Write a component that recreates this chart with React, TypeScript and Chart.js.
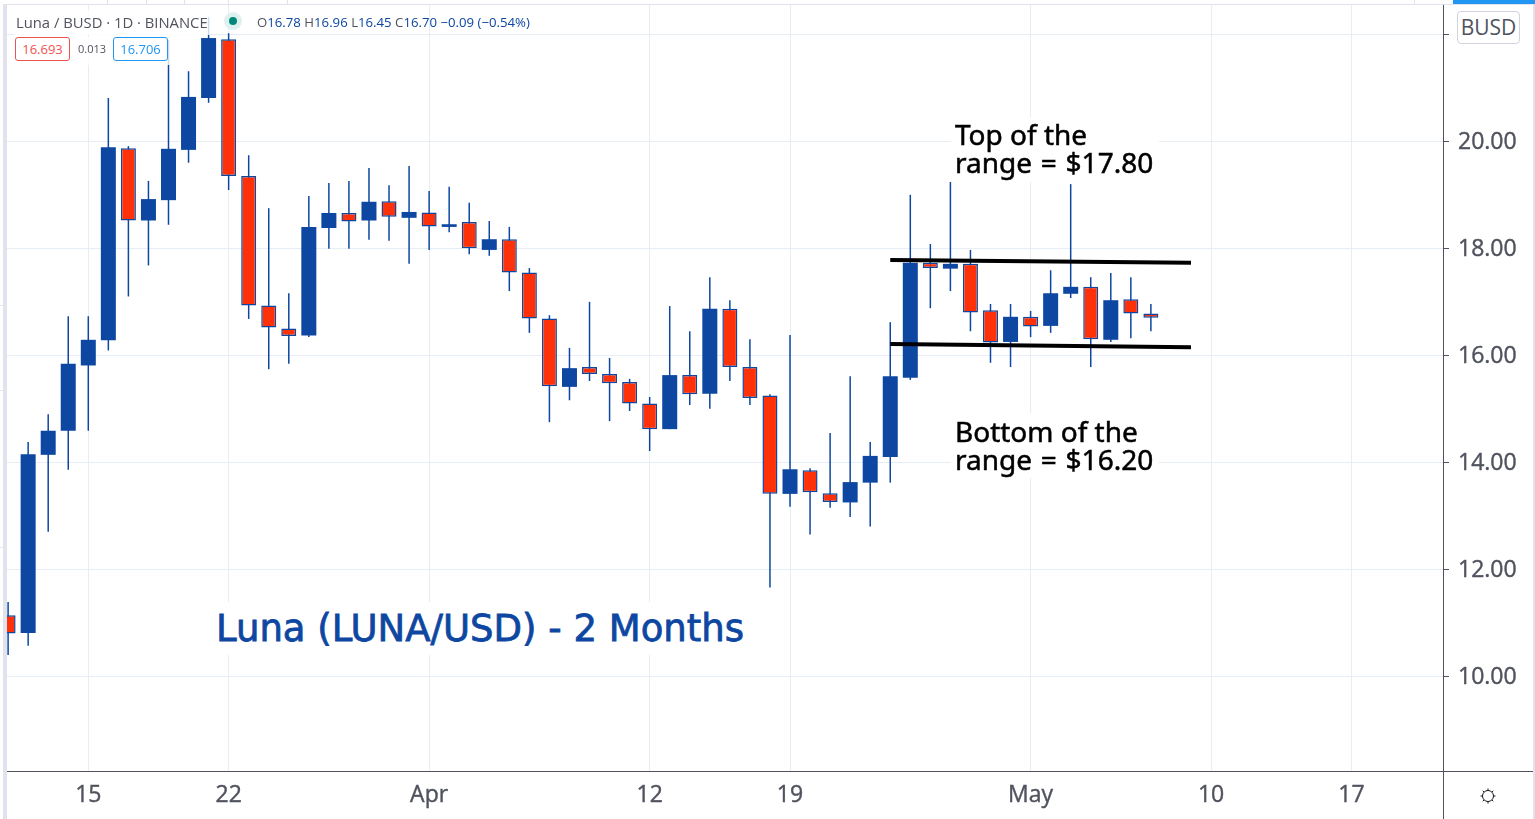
import { useEffect, useRef } from 'react';
import Chart from 'chart.js/auto';

// daily candles, index 0 is Mar 11
const dates = [
    'Mar 11', 'Mar 12', 'Mar 13', 'Mar 14', 'Mar 15', 'Mar 16', 'Mar 17', 'Mar 18', 'Mar 19', 'Mar 20', 'Mar 21',
    'Mar 22', 'Mar 23', 'Mar 24', 'Mar 25', 'Mar 26', 'Mar 27', 'Mar 28', 'Mar 29', 'Mar 30', 'Mar 31',
    'Apr 1', 'Apr 2', 'Apr 3', 'Apr 4', 'Apr 5', 'Apr 6', 'Apr 7', 'Apr 8', 'Apr 9', 'Apr 10', 'Apr 11', 'Apr 12',
    'Apr 13', 'Apr 14', 'Apr 15', 'Apr 16', 'Apr 17', 'Apr 18', 'Apr 19', 'Apr 20', 'Apr 21', 'Apr 22', 'Apr 23',
    'Apr 24', 'Apr 25', 'Apr 26', 'Apr 27', 'Apr 28', 'Apr 29', 'Apr 30', 'May 1', 'May 2', 'May 3', 'May 4',
    'May 5', 'May 6', 'May 7',
];
const opens = [
    11.14, 10.81, 14.14, 14.59, 15.81, 16.28, 19.87, 18.52, 18.9, 19.84, 20.81,
    21.91, 19.35, 16.93, 16.5, 16.37, 18.38, 18.66, 18.52, 18.88, 18.57,
    18.67, 18.4, 18.49, 17.97, 18.17, 17.55, 16.69, 15.41, 15.78, 15.65, 15.5, 15.1,
    14.62, 15.63, 15.28, 16.87, 15.78, 15.25, 13.41, 13.85, 13.42, 13.25, 13.62,
    14.1, 15.58, 17.73, 17.62, 17.71, 16.84, 16.25, 16.72, 16.55, 17.15, 17.28,
    16.29, 17.05, 16.78,
];
const highs = [
    11.39, 14.38, 14.9, 16.73, 16.73, 20.81, 19.91, 19.26, 21.89, 21.31, 22.32,
    22.02, 19.74, 18.75, 17.16, 18.98, 19.22, 19.26, 19.5, 19.18, 19.54,
    19.07, 19.15, 18.85, 18.51, 18.4, 17.63, 16.75, 16.14, 17.0, 15.95, 15.56, 15.22,
    16.92, 16.45, 17.46, 17.03, 16.3, 15.27, 16.38, 13.89, 14.55, 15.61, 14.38,
    16.62, 19.0, 18.08, 19.24, 17.97, 16.96, 16.96, 16.83, 17.59, 19.2, 17.46,
    17.54, 17.46, 16.96,
];
const lows = [
    10.4, 10.57, 12.7, 13.86, 14.59, 16.09, 17.1, 17.68, 18.44, 19.6, 20.72,
    19.09, 16.68, 15.74, 15.84, 16.34, 17.99, 17.99, 18.16, 18.14, 17.71,
    17.97, 18.3, 17.89, 17.86, 17.2, 16.42, 14.75, 15.16, 15.52, 14.77, 14.96, 14.21,
    14.62, 15.07, 15.0, 15.52, 15.07, 11.66, 13.17, 12.65, 13.15, 12.98, 12.8,
    13.62, 15.54, 16.88, 17.2, 16.45, 15.86, 15.78, 16.34, 16.42, 17.07, 15.78,
    16.25, 16.32, 16.45,
];
const closes = [
    10.8, 14.15, 14.59, 15.84, 16.29, 19.89, 18.52, 18.92, 19.86, 20.83, 21.93,
    19.35, 16.93, 16.52, 16.36, 18.4, 18.66, 18.5, 18.87, 18.59, 18.68,
    18.41, 18.45, 18.0, 18.17, 17.55, 16.69, 15.42, 15.76, 15.65, 15.48, 15.1, 14.62,
    15.63, 15.27, 16.87, 15.78, 15.2, 13.41, 13.87, 13.44, 13.26, 13.63, 14.12,
    15.61, 17.73, 17.63, 17.71, 16.8, 16.24, 16.72, 16.54, 17.16, 17.28, 16.3,
    17.03, 16.78, 16.7,
];

// drawn range lines
const rangeDays = [44, 59];
const rangeTop = [17.78, 17.73];
const rangeBottom = [16.21, 16.15];

const priceTicks = [22, 20, 18, 16, 14, 12, 10];
const dayTicks = [4, 11, 21, 32, 39, 51, 60, 67];
const dayTickLabels = ['15', '22', 'Apr', '12', '19', 'May', '10', '17'];

const BLUE = '#0d47a1';
const RED = '#ff3108';
const GRID = '#e6edf4';
const AXIS = '#50535e';
const FRAME = '#e0e3eb';

// frame around the pane that the library does not draw
const framePlugin = {
    id: 'frame',
    beforeDraw(chart: Chart) {
        const { ctx } = chart;
        ctx.save();
        ctx.fillStyle = '#ffffff';
        ctx.fillRect(0, 0, 1535, 819);
        ctx.fillStyle = FRAME;
        ctx.fillRect(3, 4, 4, 815);
        ctx.fillRect(3, 4, 1532, 1);
        ctx.fillRect(1533, 4, 2, 815);
        [107, 146, 184, 228, 287, 1414].forEach(x => ctx.fillRect(x, 0, 1, 4));
        [305, 390, 547].forEach(y => ctx.fillRect(0, y, 3, 1));
        ctx.fillStyle = '#2196f3';
        ctx.fillRect(1453, 0, 82, 4);
        ctx.restore();
    },
    afterDraw(chart: Chart) {
        const { ctx, chartArea } = chart;
        ctx.save();
        ctx.fillStyle = AXIS;
        ctx.fillRect(chartArea.right, chartArea.top, 1, 819 - chartArea.top);
        ctx.fillRect(chartArea.left, chartArea.bottom, 1533 - chartArea.left, 1);
        ctx.restore();
    },
};

const whiteBox = (left: number, top: number, width: number, height: number, alpha = 1) => ({
    position: 'absolute' as const,
    left,
    top,
    width,
    height,
    background: `rgba(255,255,255,${alpha})`,
});

const noPadding = (scale: any) => {
    scale.paddingTop = 0;
    scale.paddingBottom = 0;
    scale.paddingLeft = 0;
    scale.paddingRight = 0;
};

export default function App() {
    const canvasRef = useRef<HTMLCanvasElement | null>(null);

    useEffect(() => {
        if (!canvasRef.current) return;
        const days = dates.map((_, i) => i);
        const chart = new Chart(canvasRef.current, {
            type: 'bar',
            data: {
                datasets: [
                    {
                        type: 'line',
                        label: 'Top of the range',
                        data: rangeDays.map((x, i) => ({ x, y: rangeTop[i] })),
                        borderColor: '#000000',
                        borderWidth: 4,
                        pointRadius: 0,
                        order: 1,
                    },
                    {
                        type: 'line',
                        label: 'Bottom of the range',
                        data: rangeDays.map((x, i) => ({ x, y: rangeBottom[i] })),
                        borderColor: '#000000',
                        borderWidth: 4,
                        pointRadius: 0,
                        order: 1,
                    },
                    {
                        label: 'Body',
                        data: days.map(i => ({ x: i, y: [opens[i], closes[i]] })),
                        backgroundColor: days.map(i => (closes[i] < opens[i] ? RED : BLUE)),
                        borderColor: BLUE,
                        borderWidth: days.map(i => (closes[i] < opens[i] ? 1.5 : 0)),
                        borderSkipped: false,
                        inflateAmount: 0,
                        barThickness: 15,
                        grouped: false,
                        order: 2,
                    },
                    {
                        label: 'Wick',
                        data: days.map(i => ({ x: i, y: [lows[i], highs[i]] })),
                        backgroundColor: BLUE,
                        borderWidth: 0,
                        inflateAmount: 0,
                        barThickness: 1.5,
                        grouped: false,
                        order: 3,
                    },
                ],
            },
            options: {
                responsive: false,
                animation: false,
                devicePixelRatio: 1,
                events: [],
                layout: { padding: { left: 7, top: 5, right: 0, bottom: 0 } },
                plugins: { legend: { display: false }, tooltip: { enabled: false } },
                scales: {
                    x: {
                        type: 'linear',
                        offset: false,
                        min: -0.055,
                        max: 71.57,
                        afterBuildTicks: scale => {
                            scale.ticks = dayTicks.map(value => ({ value }));
                        },
                        afterFit: scale => {
                            scale.height = 48;
                            noPadding(scale);
                        },
                        grid: { color: GRID, drawTicks: false, offset: false },
                        border: { display: false },
                        ticks: {
                            autoSkip: false,
                            maxRotation: 0,
                            padding: 11,
                            color: AXIS,
                            textStrokeColor: AXIS,
                            textStrokeWidth: 0.4,
                            font: { family: 'Open Sans', size: 23 },
                            callback: value => dayTickLabels[dayTicks.indexOf(Number(value))],
                        },
                    },
                    y: {
                        position: 'right',
                        min: 8.23,
                        max: 22.548,
                        afterBuildTicks: scale => {
                            scale.ticks = priceTicks.map(value => ({ value }));
                        },
                        afterFit: scale => {
                            scale.width = 92;
                            noPadding(scale);
                        },
                        grid: { color: GRID, tickColor: AXIS, tickLength: 6 },
                        border: { display: false },
                        ticks: {
                            padding: 9,
                            labelOffset: 1.5,
                            color: AXIS,
                            textStrokeColor: AXIS,
                            textStrokeWidth: 0.4,
                            font: { family: 'Open Sans', size: 23 },
                            // 22.00 sits behind the currency badge
                            callback: value => (value === 22 ? '' : Number(value).toFixed(2)),
                        },
                    },
                },
            },
            plugins: [framePlugin],
        });
        return () => chart.destroy();
    }, []);

    const legendValue = { color: BLUE };
    const note = {
        position: 'absolute' as const,
        left: 955,
        color: '#000000',
        font: '28px / 28px "Noto Sans"',
        WebkitTextStroke: '0.5px #000000',
        whiteSpace: 'pre' as const,
    };
    const spaced = { wordSpacing: 1.5 };

    return (
        <div style={{ position: 'fixed', left: 0, top: 0, width: 1535, height: 819, overflow: 'hidden', background: '#fff' }}>
            <canvas ref={canvasRef} width={1535} height={819} style={{ display: 'block' }} />

            <div style={whiteBox(14, 10, 196, 25, 0.8)} />
            <div style={whiteBox(14, 37, 156, 28, 0.8)} />
            <div style={{ position: 'absolute', left: 16, top: 13, color: AXIS, font: '14.8px / 18px "Open Sans"', whiteSpace: 'pre' }}>
                Luna / BUSD · 1D · BINANCE
            </div>
            <div style={{ position: 'absolute', left: 224, top: 12, width: 18, height: 18, borderRadius: 9, background: '#dff1ee' }} />
            <div style={{ position: 'absolute', left: 229, top: 17, width: 8, height: 8, borderRadius: 4, background: '#00897b' }} />
            <div style={{ position: 'absolute', left: 257, top: 13, color: AXIS, font: '13.2px / 18px "Open Sans"', whiteSpace: 'pre' }}>
                O<span style={legendValue}>16.78</span> H<span style={legendValue}>16.96</span> L<span style={legendValue}>16.45</span> C<span style={legendValue}>16.70</span> <span style={legendValue}>−0.09 (−0.54%)</span>
            </div>
            <div style={{ position: 'absolute', left: 15, top: 37, width: 53, height: 22, border: '1px solid #ef5350', borderRadius: 3, background: '#fff', color: '#ef5350', font: '13px / 23px "Open Sans"', textAlign: 'center' }}>
                16.693
            </div>
            <div style={{ position: 'absolute', left: 78, top: 40, color: AXIS, font: '11px / 18px "Open Sans"' }}>0.013</div>
            <div style={{ position: 'absolute', left: 113, top: 37, width: 53, height: 22, border: '1px solid #2196f3', borderRadius: 3, background: '#fff', color: '#2196f3', font: '13px / 23px "Open Sans"', textAlign: 'center' }}>
                16.706
            </div>

            <div style={{ position: 'absolute', left: 1457, top: 11, width: 61, height: 31, border: '1px solid #d1d4dc', borderRadius: 4, background: '#fff', color: AXIS, font: '21px / 31px "Open Sans"', textAlign: 'center' }}>
                BUSD
            </div>

            <div style={whiteBox(951, 118, 208, 64)} />
            <div style={{ ...note, top: 120 }}>Top of the{'\n'}<span style={spaced}>range = $17.80</span></div>
            <div style={whiteBox(951, 413, 208, 65)} />
            <div style={{ ...note, top: 417 }}>Bottom of the{'\n'}<span style={spaced}>range = $16.20</span></div>

            <div style={whiteBox(214, 602, 532, 53)} />
            <div style={{ position: 'absolute', left: 216, top: 605, color: BLUE, font: '37px / 48px "DejaVu Sans"', WebkitTextStroke: '0.8px ' + BLUE, whiteSpace: 'pre' }}>
                Luna (LUNA/USD) - 2 Months
            </div>

            <svg style={{ position: 'absolute', left: 1480, top: 788 }} width={16} height={16} viewBox="0 0 16 16">
                <circle cx={8} cy={8} r={5.5} fill="none" stroke="#131722" strokeWidth={1} />
                <path d="M8 0.5V2.5M8 13.5V15.5M0.5 8H2.5M13.5 8H15.5M2.7 2.7L4 4M12 12L13.3 13.3M2.7 13.3L4 12M12 4L13.3 2.7" stroke="#131722" strokeWidth={1} />
            </svg>
        </div>
    );
}
